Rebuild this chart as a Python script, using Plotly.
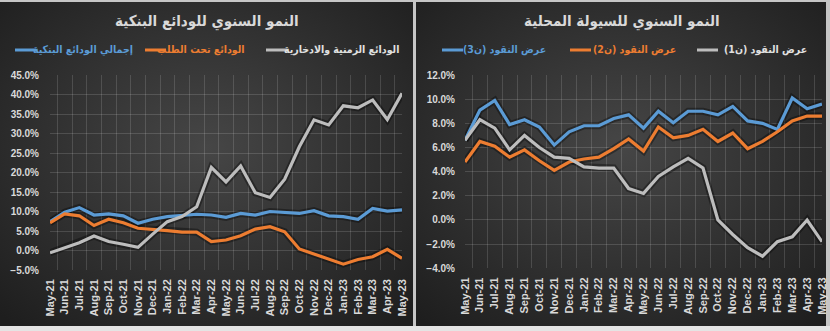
import base64
import plotly.graph_objects as go

# Months on the category axis
months = ["May-21", "Jun-21", "Jul-21", "Aug-21", "Sep-21", "Oct-21", "Nov-21", "Dec-21",
          "Jan-22", "Feb-22", "Mar-22", "Apr-22", "May-22", "Jun-22", "Jul-22", "Aug-22",
          "Sep-22", "Oct-22", "Nov-22", "Dec-22", "Jan-23", "Feb-23", "Mar-23", "Apr-23", "May-23"]

# Annual growth of bank deposits (%)
total_deposits = [7.4, 9.8, 11.0, 9.1, 9.4, 8.9, 7.0, 8.0, 8.7, 8.9, 9.3, 9.1, 8.5,
                  9.5, 9.1, 10.0, 9.8, 9.5, 10.2, 8.9, 8.7, 8.0, 10.8, 10.1, 10.4]
demand_deposits = [7.1, 9.4, 8.9, 6.4, 8.0, 7.1, 5.7, 5.5, 5.1, 4.7, 4.7, 2.3, 2.7,
                   3.8, 5.5, 6.1, 4.8, 0.4, -0.9, -2.4, -3.5, -2.3, -1.6, 0.3, -2.0]
time_savings = [-0.6, 0.7, 2.0, 3.7, 2.3, 1.6, 0.8, 4.2, 7.4, 8.7, 11.2, 21.3, 17.6,
                21.7, 14.8, 13.6, 18.3, 26.6, 33.5, 32.2, 37.1, 36.6, 38.6, 33.6, 40.3]

# Annual growth of domestic liquidity (%)
m3 = [6.6, 9.1, 9.9, 7.9, 8.3, 7.7, 6.2, 7.3, 7.8, 7.8, 8.4, 8.7, 7.6,
      9.0, 8.05, 9.0, 9.0, 8.7, 9.4, 8.2, 8.0, 7.5, 10.1, 9.2, 9.6]
m2 = [4.8, 6.5, 6.1, 5.2, 5.8, 4.9, 4.1, 4.8, 5.05, 5.2, 5.9, 6.7, 5.7,
      7.7, 6.8, 7.0, 7.5, 6.5, 7.2, 5.9, 6.5, 7.3, 8.2, 8.6, 8.6]
m1 = [6.6, 8.3, 7.6, 5.8, 7.0, 6.0, 5.2, 5.1, 4.4, 4.3, 4.3, 2.6, 2.2,
      3.6, 4.4, 5.1, 4.3, 0.0, -1.2, -2.3, -3.0, -1.8, -1.4, 0.0, -1.8]

left_title = "النمو السنوي للودائع البنكية"
right_title = "النمو السنوي للسيولة المحلية"
left_names = ["إجمالي الودائع البنكية", "الودائع تحت الطلب", "الودائع الزمنية والادخارية"]
right_names = ["عرض النقود (ن3)", "عرض النقود (ن2)", "عرض النقود (ن1)"]

BLUE, ORANGE, GRAY = "#5b9bd5", "#ed7d31", "#bdbdbd"
COLORS = [BLUE, ORANGE, GRAY]
LABEL_COLORS = [BLUE, ORANGE, "#e0e0e0"]
W, H = 830, 331
AR_FONT = "DejaVu Sans Condensed, DejaVu Sans"
NUM_FONT = "Liberation Sans"
TXT = "#d9d9d9"
GRID = "rgba(255,255,255,0.14)"


def px_x(p):
    return p / W


def px_y(p):
    return 1 - p / H


def panel_bg():
    svg = ('<svg xmlns="http://www.w3.org/2000/svg" width="400" height="320" '
           'preserveAspectRatio="none"><defs><radialGradient id="g" cx="50%" cy="45%" r="72%">'
           '<stop offset="0" stop-color="#464646"/><stop offset="1" stop-color="#1e1e1e"/>'
           '</radialGradient></defs><rect width="100%" height="100%" fill="url(#g)"/></svg>')
    return "data:image/svg+xml;base64," + base64.b64encode(svg.encode()).decode()


fig = go.Figure()

groups = [
    ("x", "y", [total_deposits, demand_deposits, time_savings], left_names),
    ("x2", "y2", [m3, m2, m1], right_names),
]
for xa, ya, series, names in groups:
    # soft shadow under each line
    for vals in series:
        fig.add_trace(go.Scatter(x=months, y=vals, xaxis=xa, yaxis=ya, mode="lines",
                                 line=dict(color="rgba(0,0,0,0.35)", width=7),
                                 hoverinfo="skip", showlegend=False))
    for vals, name, col in zip(series, names, COLORS):
        fig.add_trace(go.Scatter(x=months, y=vals, xaxis=xa, yaxis=ya, mode="lines",
                                 name=name, showlegend=False,
                                 line=dict(color=col, width=3.2)))

xcommon = dict(type="category", tickson="boundaries", tickangle=-90, showgrid=True,
               gridcolor=GRID, gridwidth=1, showline=False, ticks="",
               tickmode="array", tickvals=months, ticktext=months,
               ticklabelstandoff=6,
               tickfont=dict(family=NUM_FONT, size=11, color=TXT, weight="bold"))
ycommon = dict(showgrid=True, gridcolor=GRID, gridwidth=1, zeroline=False, ticks="",
               ticksuffix="%", tickformat=".1f",
               tickfont=dict(family=NUM_FONT, size=10, color=TXT, weight="bold"))

# Legend rows drawn as a short line swatch followed by the series label
legend_rows = [
    # (names, line starts, label centres)
    (left_names, [15, 145, 266], [83, 201, 341]),
    (right_names, [442, 570, 697], [504, 634, 765]),
]
shapes = [
    dict(type="rect", xref="paper", yref="paper", x0=0, x1=1, y0=0, y1=px_y(326),
         fillcolor="#e4e4e4", line=dict(width=0), layer="below"),
]
annotations = [
    dict(text=left_title, xref="paper", yref="paper", x=px_x(207), y=px_y(21),
         xanchor="center", yanchor="middle", showarrow=False,
         font=dict(family=AR_FONT, size=15, color=TXT, weight="bold")),
    dict(text=right_title, xref="paper", yref="paper", x=px_x(622), y=px_y(21),
         xanchor="center", yanchor="middle", showarrow=False,
         font=dict(family=AR_FONT, size=15, color=TXT, weight="bold")),
]
for names, starts, centres in legend_rows:
    for name, x0, xc, col, tcol in zip(names, starts, centres, COLORS, LABEL_COLORS):
        shapes.append(dict(type="line", xref="paper", yref="paper",
                           x0=px_x(x0), x1=px_x(x0 + 21), y0=px_y(50), y1=px_y(50),
                           line=dict(color=col, width=3)))
        annotations.append(dict(text=name, xref="paper", yref="paper", x=px_x(xc),
                                y=px_y(50), showarrow=False, xanchor="center",
                                yanchor="middle",
                                font=dict(family=AR_FONT, size=10.5, color=tcol,
                                          weight="bold")))

fig.update_layout(
    width=W, height=H, margin=dict(l=0, r=0, t=0, b=0, autoexpand=False),
    paper_bgcolor="#c6c6c6", plot_bgcolor="rgba(0,0,0,0)",
    showlegend=False,
    xaxis=dict(domain=[px_x(50), px_x(402)], anchor="y", **xcommon),
    yaxis=dict(domain=[px_y(270), px_y(75)], anchor="x", range=[-5, 45], dtick=5,
               ticklabelstandoff=10, **ycommon),
    xaxis2=dict(domain=[px_x(465), px_x(822)], anchor="y2", **xcommon),
    yaxis2=dict(domain=[px_y(268.3), px_y(75)], anchor="x2", range=[-4, 12], dtick=2,
                ticklabelstandoff=9, **ycommon),
    images=[
        dict(source=panel_bg(), xref="paper", yref="paper", x=0, y=px_y(2),
             sizex=px_x(413), sizey=324 / H, sizing="stretch", layer="below",
             xanchor="left", yanchor="top"),
        dict(source=panel_bg(), xref="paper", yref="paper", x=px_x(416), y=px_y(2),
             sizex=px_x(410), sizey=324 / H, sizing="stretch", layer="below",
             xanchor="left", yanchor="top"),
    ],
    shapes=shapes,
    annotations=annotations,
)

fig.write_html("out.html")
